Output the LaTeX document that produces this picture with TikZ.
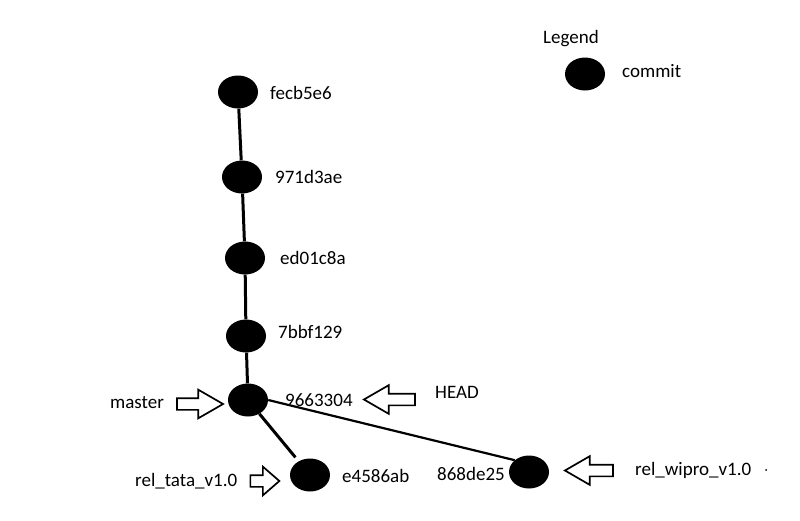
\documentclass[tikz,border=0pt]{standalone}
\usepackage{fontspec}
\setmainfont{Carlito}
\usepackage{tikz}
\usetikzlibrary{shapes.geometric,shapes.arrows}

\tikzset{
    commit/.style={ellipse, fill=black, minimum width=40pt, minimum height=33pt, inner sep=0pt},
    hash/.style={anchor=base west, inner sep=0pt, font=\fontsize{19}{23}\selectfont},
    ptr/.style={single arrow, draw, line width=1.7pt, fill=white, inner sep=5pt,
        single arrow head extend=8.5pt, single arrow tip angle=60},
    ptrleft/.style={ptr, shape border rotate=180},
    parent/.style={line width=3pt},
}

\begin{document}
\begin{tikzpicture}[x=1pt, y=-1pt]
    \useasboundingbox (0,0) rectangle (800,520);

    % commits
    \node (c1) at (238,92) [commit] {};
    \node (c2) at (242,177) [commit] {};
    \node (c3) at (245,258) [commit] {};
    \node (c4) at (246,336) [commit] {};
    \node (c5) at (248,400) [commit] {};
    \node (c6) at (310,475) [commit] {};
    \node (c7) at (529,472) [commit] {};

    % hashes
    \node (h1) at (270,99) [hash] {fecb5e6};
    \node (h2) at (275,183) [hash] {971d3ae};
    \node (h3) at (280,264) [hash] {ed01c8a};
    \node (h4) at (278,338) [hash] {7bbf129};
    \node (h5) at (285,406) [hash] {9663304};
    \node (h6) at (342,482) [hash] {e4586ab};
    \node (h7) at (437,480) [hash] {868de25};

    % history
    \draw[parent] (c1) -- (c2);
    \draw[parent] (c2) -- (c3);
    \draw[parent] (c3) -- (c4);
    \draw[parent] (c4) -- (c5);
    \draw[parent, shorten >=5pt] (c5) -- (c6);
    \draw[line width=2.2pt] (c5.east) -- (c7.north west);

    % branches and HEAD
    \node (pmaster) at (195,404) [ptr, minimum height=46pt] {};
    \node (lmaster) at (110,408) [hash] {master};
    \node (phead) at (394.5,399.5) [ptrleft, minimum height=51pt] {};
    \node (lhead) at (435,398) [hash] {HEAD};
    \node (ptata) at (261.5,481) [ptr, minimum height=29pt, single arrow tip angle=82] {};
    \node (ltata) at (135,486) [hash] {rel\_tata\_v1.0};
    \node (pwipro) at (594,470.5) [ptrleft, minimum height=48pt] {};
    \node (lwipro) at (635,475) [hash] {rel\_wipro\_v1.0};
    \fill (766,470) circle (1pt);

    % legend
    \node (legend) at (543,43) [hash] {Legend};
    \node (lcommit) at (585,74) [commit] {};
    \node (tcommit) at (622,77) [hash] {commit};
\end{tikzpicture}
\end{document}
